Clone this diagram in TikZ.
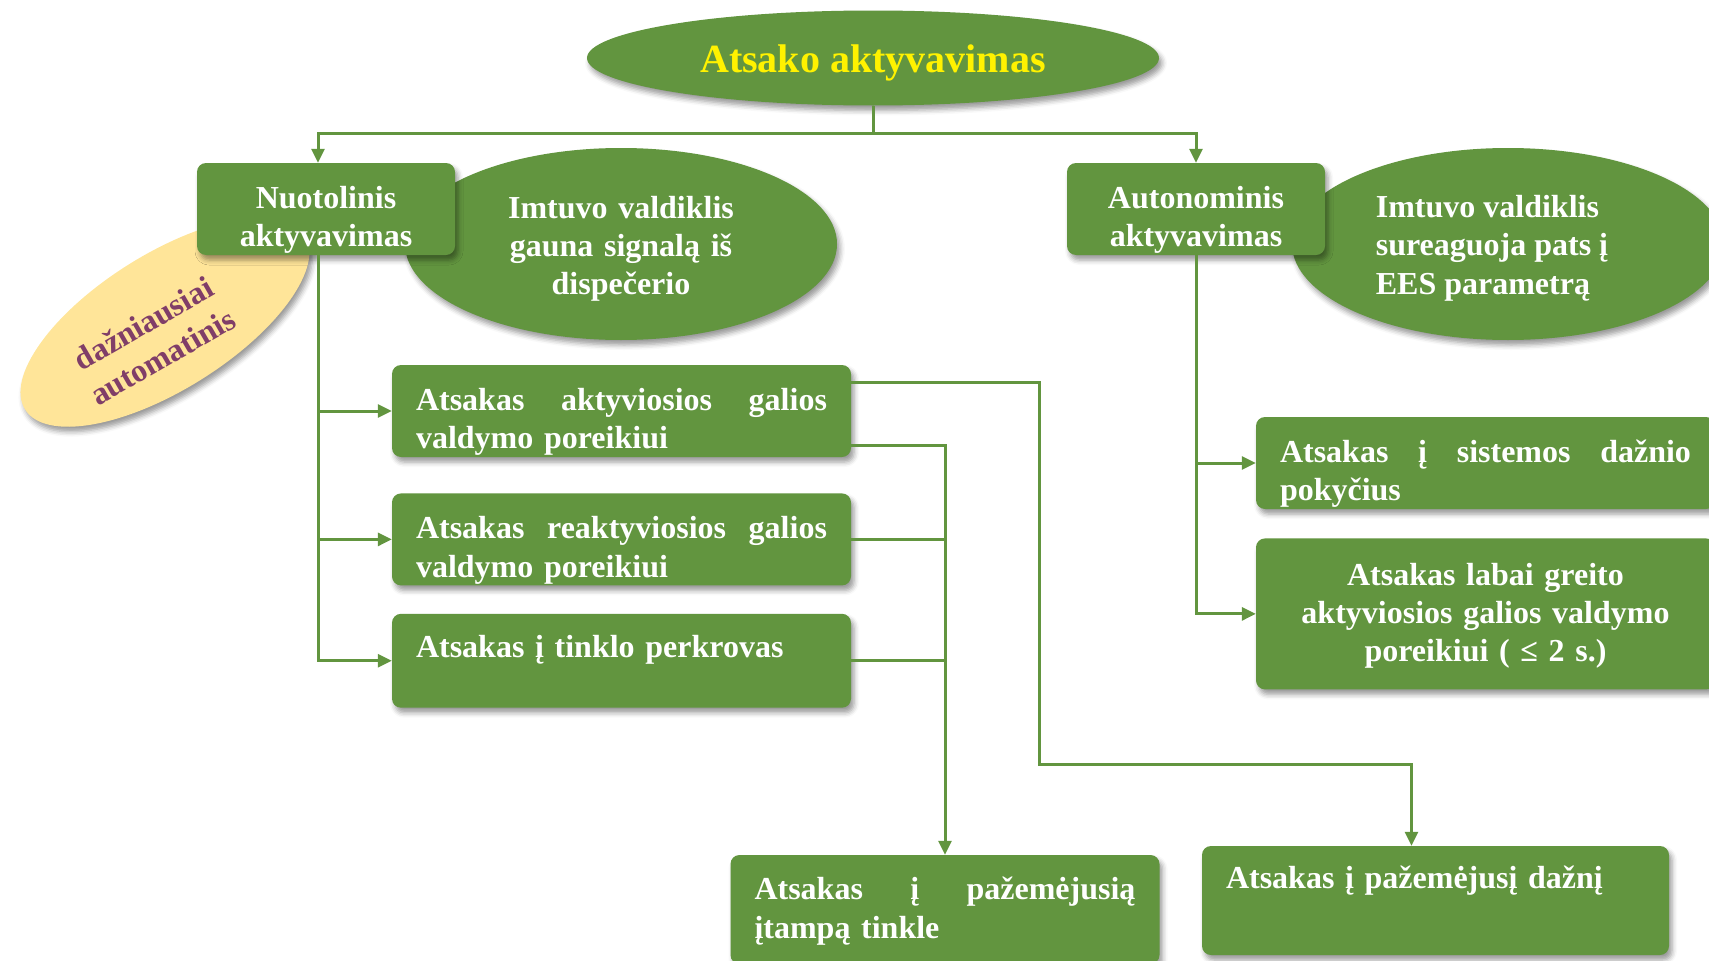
\documentclass[tikz,border=0pt]{standalone}
\usepackage{fontspec}
\setmainfont{Liberation Serif}
\usetikzlibrary{arrows.meta,positioning,shapes.geometric,calc,shadows,shadows.blur}
\definecolor{leaf}{RGB}{98,149,63}
\definecolor{notepaper}{RGB}{255,229,153}
\definecolor{noteplum}{RGB}{128,62,104}

\begin{document}
\begin{tikzpicture}[x=1pt, y=-1pt,
    >={Triangle[length=14pt,width=13pt]},
    lift/.store in=\liftht, lift=44pt,
    txt/.style={font=\fontsize{32}{38.4}\selectfont\bfseries},
    soft/.style={blur shadow={shadow xshift=3pt, shadow yshift=-5pt,
                 shadow blur radius=5pt, shadow opacity=40}},
    box/.style={rectangle, rounded corners=9pt, fill=leaf, text=white, txt, soft,
                text width=411pt, inner xsep=24pt, inner ysep=0pt,
                minimum height=92pt, align=left,
                execute at begin node={\rule{0pt}{\liftht}}},
    bubble/.style={ellipse, fill=leaf, text=white, txt, soft, inner sep=0pt,
                   minimum width=432pt, minimum height=192pt,
                   execute at begin node={\rule{0pt}{\liftht}}},
    conn/.style={draw=leaf, line width=3pt},
    arr/.style={conn, ->}]

\path[use as bounding box] (0,0) rectangle (1709,961);
\clip (0,0) rectangle (1709,961);

\node[bubble, minimum width=572pt, minimum height=95pt, text=yellow, lift=38pt,
      font=\fontsize{40}{48}\selectfont\bfseries] (top) at (873,58) {Atsako aktyvavimas};

\node[bubble, text width=250pt, align=center, lift=32pt] (imt1) at (621,244)
    {Imtuvo valdiklis\\gauna signalą iš\\dispečerio};
\node[bubble] (imt2) at (1508,244) {};
\node[txt, text=white, align=left] (imt2txt) at (1492,248) {Imtuvo valdiklis\\sureaguoja pats į\\EES parametrą};

\node[ellipse, fill=notepaper, soft, minimum width=330pt, minimum height=136pt,
      rotate=32] (note) at (165,322) {};
\node[txt, text=noteplum, align=center, rotate=30] (notetxt) at (153,340) {dažniausiai\\automatinis};

\node[box, text width=210pt, align=center] (nuot) at (326,209) {Nuotolinis\\aktyvavimas};
\node[box, text width=210pt, align=center] (auto) at (1196,209) {Autonominis\\aktyvavimas};

\node[box] (a1) at (621.5,411) {Atsakas\hfill aktyviosios\hfill galios\\valdymo poreikiui};
\node[box, below=36pt of a1] (a2) {Atsakas\hfill reaktyviosios\hfill galios\\valdymo poreikiui};
\node[box, below=28pt of a2] (a3) {Atsakas į tinklo perkrovas\\\strut};

\node[box] (c1) at (1485.5,463) {Atsakas\hfill į\hfill sistemos\hfill dažnio\\pokyčius};
\node[box, below=29pt of c1, minimum height=151pt, align=center, lift=26pt] (c2)
    {Atsakas labai greito\\aktyviosios galios valdymo\\poreikiui ( ≤ 2 s.)};

\node[box, text width=381pt, minimum height=109pt, lift=26pt] (b1) at (945,909.5)
    {Atsakas\hfill į\hfill pažemėjusią\\įtampą tinkle};
\node[box, text width=419pt, minimum height=109pt, lift=26pt] (b2) at (1435.5,900.5)
    {Atsakas į pažemėjusį dažnį\\\strut};

\coordinate (split) at (873,133);
\coordinate (nl) at ($(nuot.north)+(-8,0)$);
\coordinate (nlb) at ($(nuot.south)+(-8,0)$);
\coordinate (freq) at (1039,764);

\draw[conn] (top.south) -- (split);
\draw[arr] (split) -| (nl);
\draw[arr] (split) -| (auto.north);

\draw[arr] (nlb) |- (a1.west);
\draw[arr] (nlb) |- (a2.west);
\draw[arr] (nlb) |- (a3.west);

\draw[arr] (auto.south) |- (c1.west);
\draw[arr] (auto.south) |- (c2.west);

\draw[arr] ($(a1.north east)+(0,18)$) -| (freq) -| ($(b2.north)+(-24,0)$);
\draw[arr] ($(a1.south east)+(0,-12)$) -| (b1.north);
\draw[conn] (a2.east) -- (a2.east -| b1.north);
\draw[conn] (a3.east) -- (a3.east -| b1.north);
\end{tikzpicture}
\end{document}
